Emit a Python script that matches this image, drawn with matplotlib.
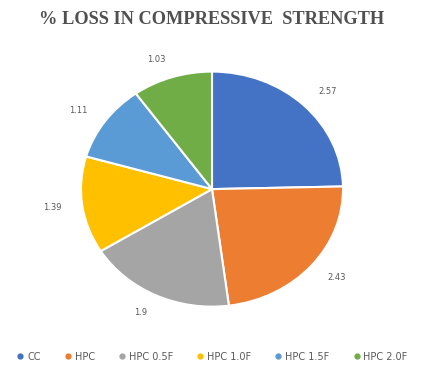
import matplotlib.pyplot as plt
from matplotlib.lines import Line2D

# % loss in compressive strength per mix
mixes = ["CC", "HPC", "HPC 0.5F", "HPC 1.0F", "HPC 1.5F", "HPC 2.0F"]
loss = [2.57, 2.43, 1.9, 1.39, 1.11, 1.03]
value_labels = ["2.57", "2.43", "1.9", "1.39", "1.11", "1.03"]
colors = ["#4472C4", "#ED7D31", "#A5A5A5", "#FFC000", "#5B9BD5", "#70AD47"]

fig = plt.figure(figsize=(4.24, 3.69), dpi=100)
fig.patch.set_facecolor("white")

ax = fig.add_axes([0.191, 0.169, 0.618, 0.637])
wedges, texts = ax.pie(loss, labels=value_labels, colors=colors,
                       startangle=90, counterclock=False,
                       labeldistance=1.16,
                       wedgeprops=dict(edgecolor="white", linewidth=1.5),
                       textprops=dict(fontsize=6, color="#595959"))
ax.set_aspect("auto")
ax.set_xlim(-1, 1)
ax.set_ylim(-1, 1)

fig.text(0.5, 0.946, "% LOSS IN COMPRESSIVE  STRENGTH", ha="center", va="center",
         fontsize=13.2, fontweight="bold", family="Liberation Serif", color="#505050")

handles = [Line2D([0], [0], marker="o", linestyle="", markersize=3.5,
                  markerfacecolor=c, markeredgecolor=c) for c in colors]
fig.legend(handles, mixes, loc="center", bbox_to_anchor=(0.5, 0.033), ncol=6,
           frameon=False, fontsize=7, labelcolor="#595959", handletextpad=0.3,
           columnspacing=2.4, handlelength=0.8)

fig.savefig("out.png", dpi=100)
